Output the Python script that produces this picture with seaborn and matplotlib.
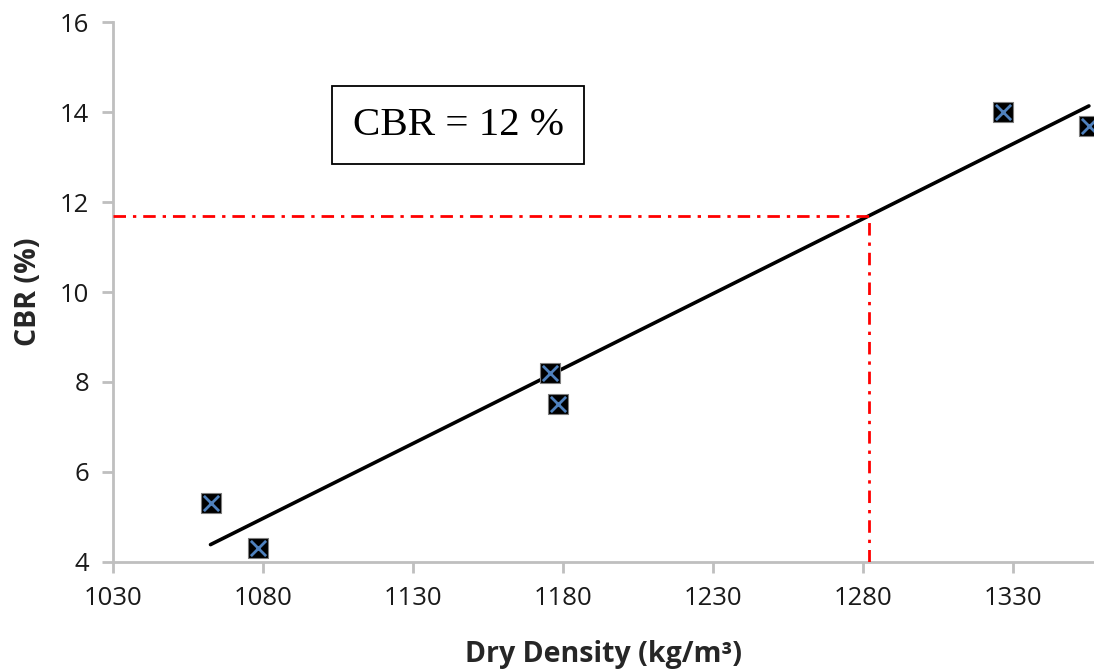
import numpy as np
import pandas as pd
import matplotlib
matplotlib.use("Agg")
import matplotlib.pyplot as plt
import seaborn as sns

# Data
dry_density = [1062.5, 1078.3, 1175.5, 1178.3, 1326.5, 1355.3]
cbr = [5.3, 4.3, 8.2, 7.5, 14.0, 13.7]
target_density = 1282
x_ticks = [1030, 1080, 1130, 1180, 1230, 1280, 1330]
y_ticks = [4, 6, 8, 10, 12, 14, 16]
annotation = "CBR = 12 %"

df = pd.DataFrame({"Dry Density": dry_density, "CBR": cbr})

sns.set_theme(style="white")
plt.rcParams['font.family'] = ['Open Sans', 'DejaVu Sans']

fig = plt.figure(figsize=(10.94, 6.69), dpi=100)
ax = fig.add_axes([0.1033, 0.16, 0.8967, 0.807])

# linear trendline
sns.regplot(data=df, x="Dry Density", y="CBR", scatter=False, ci=None,
            truncate=True, ax=ax, line_kws=dict(color="black", lw=2.6,
                                                 solid_capstyle="round"))

# markers: black square with blue X
sns.scatterplot(data=df, x="Dry Density", y="CBR", marker="s", s=200,
                color="black", edgecolor="#7f7f7f", linewidth=0.8, ax=ax, zorder=4)
sns.scatterplot(data=df, x="Dry Density", y="CBR", marker="x", s=120,
                color="#4f81bd", linewidth=2.0, ax=ax, zorder=5)

# dash-dot guide lines at target density from the fitted line
slope, intercept = np.polyfit(dry_density, cbr, 1)
target_cbr = slope * target_density + intercept
ax.plot([1030, target_density], [target_cbr, target_cbr], color="red", lw=2.0,
        dashes=(4.5, 2.5, 1.2, 2.5), zorder=3)
ax.plot([target_density, target_density], [4, target_cbr], color="red", lw=2.0,
        dashes=(4.5, 2.5, 1.2, 2.5), zorder=3)

ax.set_xlim(1030, 1357)
ax.set_ylim(4, 16)
ax.set_xticks(x_ticks)
ax.set_yticks(y_ticks)
ax.tick_params(axis="both", which="major", labelsize=18.5, colors="#bfbfbf",
               labelcolor="#1a1a1a", length=8, width=2, direction="out",
               bottom=True, left=True, pad=9)

for side in ["top", "right"]:
    ax.spines[side].set_visible(False)
for side in ["left", "bottom"]:
    ax.spines[side].set_color("#bfbfbf")
    ax.spines[side].set_linewidth(2)

ax.set_xlabel("Dry Density (kg/m³)", fontsize=20.5, fontweight="bold",
              color="#262626", labelpad=21)
ax.set_ylabel("CBR (%)", fontsize=20.5, fontweight="bold", color="#262626",
              labelpad=12)

ax.text(0.352, 0.809, annotation, transform=ax.transAxes, fontsize=29.5,
        family="Liberation Serif", ha="center", va="center", color="black",
        bbox=dict(boxstyle="square,pad=0.5", fc="white", ec="black", lw=1.3))

fig.savefig("out.png", dpi=100)
